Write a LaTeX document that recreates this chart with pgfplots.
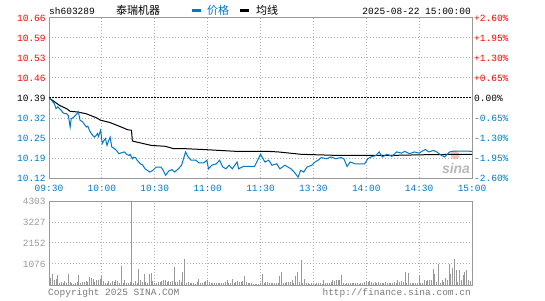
\documentclass[border=0pt]{standalone}
\usepackage{pgfplots}
\pgfplotsset{compat=1.18}
\usepackage{pgfplotstable}
\usepackage{fontspec}
\setmainfont{Liberation Mono}
\newfontfamily\cjk{Noto Sans CJK SC}
\newfontfamily\logofont{Liberation Sans}
\definecolor{sblue}{RGB}{0,120,200}
\definecolor{sred}{RGB}{255,0,0}
\definecolor{sgray}{RGB}{153,153,153}
\definecolor{sgrid}{RGB}{175,175,175}

% minute volume, 09:30 .. 15:00 (241 minutes)
\pgfplotstableread[row sep=\\]{
v\\170\\340\\550\\250\\290\\510\\120\\150\\100\\180\\
120\\550\\160\\120\\60\\100\\160\\510\\100\\130\\
160\\200\\150\\425\\340\\300\\160\\250\\280\\300\\
480\\200\\100\\120\\210\\90\\230\\150\\250\\180\\
120\\975\\110\\240\\120\\90\\150\\4303\\120\\200\\
90\\820\\250\\160\\550\\150\\120\\550\\600\\200\\
120\\80\\150\\160\\200\\280\\240\\150\\200\\140\\
200\\920\\160\\150\\250\\160\\650\\1330\\100\\160\\
120\\100\\120\\70\\150\\290\\100\\120\\150\\180\\
250\\150\\100\\80\\120\\110\\80\\90\\100\\80\\
150\\250\\120\\100\\300\\120\\150\\180\\130\\160\\
200\\460\\150\\100\\90\\80\\60\\60\\60\\60\\
80\\565\\120\\160\\150\\110\\90\\110\\90\\80\\
100\\460\\650\\80\\100\\150\\130\\160\\260\\120\\
480\\650\\130\\1280\\120\\290\\120\\90\\60\\80\\
90\\50\\110\\90\\100\\60\\250\\80\\120\\110\\
150\\250\\200\\250\\250\\250\\510\\90\\60\\100\\
80\\100\\90\\80\\100\\90\\60\\100\\90\\130\\
200\\150\\190\\150\\120\\150\\90\\150\\120\\110\\
90\\130\\90\\120\\90\\120\\150\\110\\250\\150\\
200\\150\\650\\120\\600\\100\\100\\80\\80\\90\\
510\\110\\90\\250\\210\\270\\250\\250\\820\\565\\
150\\1060\\120\\250\\170\\350\\240\\1060\\550\\850\\
1330\\770\\160\\770\\240\\510\\650\\770\\250\\200\\
600\\
}\vol

\begin{document}
\fontsize{9.5pt}{11pt}\selectfont
\begin{tikzpicture}
\path[use as bounding box] (0pt,0pt) rectangle (545pt,300pt);

% watermark (behind the lines)
\fill[red!25] (455pt,145pt) circle (4.5pt);
\node[anchor=center, inner sep=0pt, text=black!28] at (456pt,132pt) {\logofont\bfseries\itshape\fontsize{14pt}{14pt}\selectfont sina};

% price panel
\begin{axis}[
  at={(49pt,122pt)}, anchor=south west,
  scale only axis, width=423pt, height=160pt,
  xmin=0, xmax=240, ymin=10.12, ymax=10.66,
  axis line style={sgray, line width=1pt},
  tick style={draw=none},
  xtick={0,30,...,240},
  xticklabels={09:30,10:00,10:30,11:00,11:30,13:30,14:00,14:30,15:00},
  xticklabel style={anchor=center, yshift=-10.5pt, text=sblue, inner sep=0pt},
  ytick={10.12,10.1875,10.255,10.3225,10.4575,10.525,10.5925,10.66},
  yticklabels={\textcolor{sblue}{10.12},\textcolor{sblue}{10.19},\textcolor{sblue}{10.25},\textcolor{sblue}{10.32},\textcolor{sred}{10.46},\textcolor{sred}{10.53},\textcolor{sred}{10.59},\textcolor{sred}{10.66}},
  extra y ticks={10.39}, extra y tick labels={10.39},
  extra y tick style={grid=major, major grid style={black, line width=1pt, dash pattern=on 2pt off 1pt}},
  grid=major,
  major grid style={sgrid, line width=1pt, dash pattern=on 1pt off 2pt},
  scaled y ticks=false,
]
\addplot[black, line width=1pt, mark=none] coordinates {
(0,10.39) (2,10.382) (6,10.365) (10,10.354) (12,10.345) (16,10.343) (21,10.337)
(26.6,10.324) (29.3,10.315) (34.7,10.307) (41,10.292) (44.6,10.283) (46.8,10.281)
(47.3,10.245) (50,10.241) (58,10.23) (66,10.227) (70.7,10.219) (77,10.219) (88,10.216)
(97,10.213) (106,10.21) (124,10.21) (130,10.208) (143,10.2) (165,10.196) (192,10.196)
(217,10.199) (240,10.2)};
\addplot[sblue, line width=1pt, mark=none] coordinates {
(0,10.39) (1,10.385) (3,10.371) (4,10.354) (5,10.36) (7,10.348) (8,10.34) (9,10.337)
(10,10.337) (11,10.33) (12,10.292) (12.6,10.32) (14,10.325) (15,10.331) (16.7,10.343)
(17.6,10.315) (19,10.31) (19.8,10.303) (21.2,10.292) (22,10.295) (23,10.28) (24,10.27)
(25.7,10.258) (26.5,10.262) (27.5,10.27) (28,10.26) (29.3,10.281) (30.2,10.236)
(31,10.245) (32,10.253) (32.9,10.23) (33.8,10.245) (34.7,10.258) (35.6,10.225)
(37,10.22) (38.3,10.213) (39.6,10.202) (41,10.205) (42.8,10.208) (44,10.2)
(45.5,10.196) (46,10.2) (47.3,10.185) (48,10.19) (49.1,10.189) (50,10.18)
(51.8,10.168) (53,10.165) (54.5,10.151) (56,10.145) (57.2,10.14) (59,10.146)
(60.8,10.157) (63.5,10.157) (64.8,10.146) (66.2,10.129) (68,10.144) (69.8,10.148)
(71.3,10.14) (73.4,10.151) (75.2,10.163) (77.5,10.208) (78.5,10.196) (79.3,10.189)
(80.6,10.18) (83.3,10.18) (85.1,10.171) (87.8,10.171) (89.6,10.18) (90.5,10.151)
(92.3,10.163) (95,10.168) (96.8,10.18) (98.6,10.157) (100.4,10.151) (102.2,10.163)
(104,10.151) (106.7,10.174) (107.6,10.151) (110.3,10.159) (116.6,10.159)
(118.4,10.18) (120,10.2) (122.5,10.174) (124.7,10.18) (126.5,10.163)
(129.2,10.168) (131,10.151) (133.8,10.163) (137.3,10.151) (139.1,10.14)
(141.3,10.123) (142.8,10.146) (144.5,10.14) (146.4,10.157) (149.1,10.163)
(150.9,10.174) (152.7,10.18) (154.5,10.189) (157.3,10.185) (160,10.191)
(162.7,10.185) (165.5,10.189) (167.3,10.185) (169.1,10.159) (170.9,10.174)
(173.6,10.168) (179.1,10.168) (180.9,10.185) (182.7,10.191) (185.5,10.196)
(187.3,10.208) (189.1,10.191) (191.8,10.2) (194.5,10.193) (197.3,10.208)
(200,10.204) (201.8,10.21) (204.5,10.202) (207.3,10.208) (210,10.204)
(211.8,10.211) (213.6,10.216) (215.5,10.208) (218.2,10.213) (220,10.208)
(222.7,10.196) (224.5,10.191) (227.3,10.208) (230,10.211) (235.5,10.211) (240,10.21)};
\end{axis}

% percent scale on the right
\begin{axis}[
  at={(49pt,122pt)}, anchor=south west,
  scale only axis, width=423pt, height=160pt,
  xmin=0, xmax=240, ymin=-2.6, ymax=2.6,
  hide x axis, axis y line*=right,
  y axis line style={draw=none}, tick style={draw=none},
  ytick={-2.6,-1.95,-1.3,-0.65,0,0.65,1.3,1.95,2.6},
  yticklabels={\textcolor{sblue}{-2.60\%},\textcolor{sblue}{-1.95\%},\textcolor{sblue}{-1.30\%},\textcolor{sblue}{-0.65\%},\textcolor{black}{0.00\%},\textcolor{sred}{+0.65\%},\textcolor{sred}{+1.30\%},\textcolor{sred}{+1.95\%},\textcolor{sred}{+2.60\%}},
  yticklabel style={inner sep=2pt},
]
\end{axis}

% volume panel
\begin{axis}[
  at={(49pt,15pt)}, anchor=south west,
  scale only axis, width=423pt, height=84pt,
  xmin=0, xmax=240, ymin=0, ymax=4303,
  axis line style={sgray, line width=1pt},
  tick style={draw=none},
  xtick={30,60,...,210}, xticklabels={},
  ytick={1076,2152,3227,4303},
  yticklabels={1076,2152,3227,4303},
  yticklabel style={text=sgray},
  scaled y ticks=false,
  grid=major,
  major grid style={sgrid, line width=1pt, dash pattern=on 1pt off 2pt},
]
\addplot[ycomb, sgray, line width=1pt, mark=none] table[x expr=\coordindex, y=v] {\vol};
\end{axis}

% header
\node[anchor=base west, inner sep=0pt] at (49pt,285pt) {sh603289};
\node[anchor=base west, inner sep=0pt] at (116pt,285pt) {\cjk\fontsize{11pt}{11pt}\selectfont 泰瑞机器};
\draw[sblue, line width=3pt] (192pt,289pt) -- (201pt,289pt);
\node[anchor=base west, inner sep=0pt, text=sblue] at (207pt,285pt) {\cjk\fontsize{11pt}{11pt}\selectfont 价格};
\draw[black, line width=3pt] (240pt,289pt) -- (249pt,289pt);
\node[anchor=base west, inner sep=0pt] at (256pt,285pt) {\cjk\fontsize{11pt}{11pt}\selectfont 均线};
\node[anchor=base east, inner sep=0pt] at (471pt,285pt) {2025-08-22 15:00:00};

% footer
\node[anchor=base west, inner sep=0pt, text=sgray!80!black] at (48pt,5pt) {Copyright 2025 SINA.COM};
\node[anchor=base east, inner sep=0pt, text=sgray!80!black] at (471pt,5pt) {http://finance.sina.com.cn};
\end{tikzpicture}
\end{document}
